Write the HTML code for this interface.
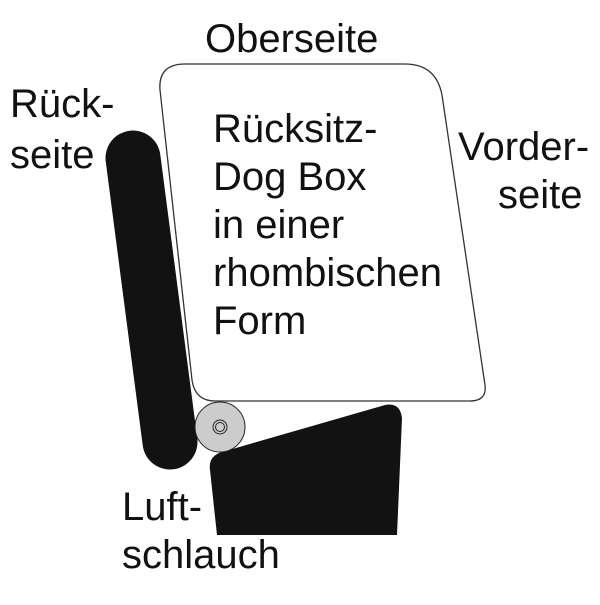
<!DOCTYPE html>
<html><head><meta charset="utf-8"><style>
html,body{margin:0;padding:0;background:#fff}
svg text{font-family:"Liberation Sans",Arial,sans-serif;font-size:40px;fill:#111}
</style></head><body>
<svg width="600" height="600" viewBox="0 0 600 600" xmlns="http://www.w3.org/2000/svg">
<rect width="600" height="600" fill="#fff"/>
<line x1="133" y1="158" x2="170" y2="442" stroke="#121212" stroke-width="55" stroke-linecap="round"/>
<path d="M185,64 L405,64 Q436,64 442,95 L485,385 Q487,401 470,401 L215,401 Q195,401 192,380 L160,90 Q158,64 185,64 Z" fill="#fff" stroke="#333" stroke-width="1.3"/>
<path d="M222,452 L385,405 Q400,402 402,418 L397,535 L217,535 L210,470 Q208,456 222,452 Z" fill="#121212"/>
<circle cx="220" cy="427" r="25" fill="#ccc" stroke="#222" stroke-width="1"/>
<circle cx="220" cy="427" r="7" fill="none" stroke="#222" stroke-width="1"/>
<circle cx="220" cy="427" r="4.5" fill="none" stroke="#222" stroke-width="1"/>
<text x="205" y="52">Oberseite</text>
<text x="10" y="117">Rück-</text>
<text x="10" y="168">seite</text>
<text x="458" y="160">Vorder-</text>
<text x="498" y="208">seite</text>
<text x="213" y="142">Rücksitz-</text>
<text x="213" y="190">Dog Box</text>
<text x="213" y="238">in einer</text>
<text x="213" y="286">rhombischen</text>
<text x="213" y="334">Form</text>
<text x="122" y="520">Luft-</text>
<text x="122" y="568">schlauch</text>
</svg>
</body></html>
